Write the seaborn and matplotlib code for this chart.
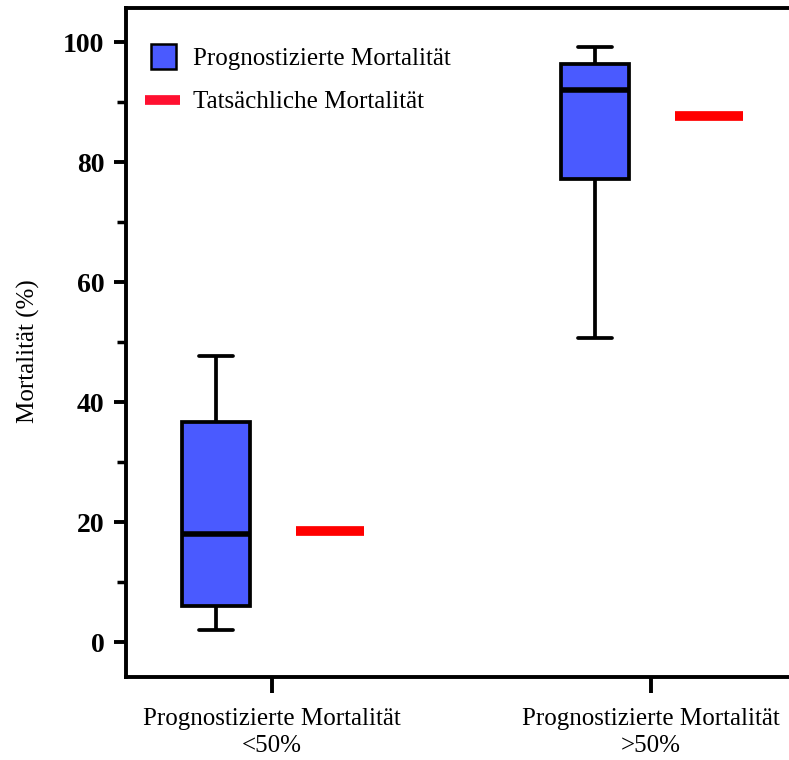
import numpy as np
import pandas as pd
import matplotlib
matplotlib.use("Agg")
import matplotlib.pyplot as plt
import seaborn as sns
from matplotlib.lines import Line2D
from matplotlib.ticker import MultipleLocator

# values (five-number summary per group)
groups = ["Prognostizierte Mortalität\n<50%", "Prognostizierte Mortalität\n>50%"]
pred_low = [2.0, 6.0, 18.0, 36.6, 47.6]
pred_high = [50.6, 77.2, 92.0, 96.4, 99.2]
actual = [18.5, 87.6]

blue = "#4a5aff"
red = "#ff0000"

sns.set_style("ticks")
plt.rcParams["font.family"] = ["Liberation Serif", "DejaVu Serif"]
plt.rcParams["text.color"] = "black"
plt.rcParams["axes.labelcolor"] = "black"
plt.rcParams["xtick.color"] = "black"
plt.rcParams["ytick.color"] = "black"
plt.rcParams["axes.edgecolor"] = "black"

df = pd.DataFrame({
    "group": np.repeat([0, 1], 5),
    "value": pred_low + pred_high,
})
df["pos"] = df["group"] - 0.148

fig = plt.figure(figsize=(7.89, 7.6), dpi=100)
ax = fig.add_axes([126 / 789, 83 / 760, 1 - 126 / 789, 669 / 760])

sns.boxplot(
    data=df, x="pos", y="value", native_scale=True, width=0.18,
    whis=(0, 100), color=blue, saturation=1, linecolor="black", linewidth=2.7,
    medianprops=dict(linewidth=4), capwidths=0.09, ax=ax,
)
for i, a in enumerate(actual):
    ax.hlines(a, i + 0.153 - 0.09, i + 0.153 + 0.09, color=red, linewidth=7)

ax.set_xlim(-0.385, 1.364)
ax.set_ylim(-5.83, 105.67)
ax.set_xticks([0, 1])
ax.set_xticklabels(groups, fontsize=18, linespacing=1.25)
ax.set_xlabel("")
ax.yaxis.set_major_locator(MultipleLocator(20))
ax.yaxis.set_minor_locator(MultipleLocator(10))
for lab in ax.get_yticklabels():
    lab.set_fontweight("bold")
    lab.set_fontsize(20)
ax.set_ylabel("Mortalität (%)", fontsize=18)
ax.yaxis.set_label_coords(-0.130, 0.487)

ax.tick_params(axis="y", which="major", length=8.5, width=2.8, pad=7)
ax.tick_params(axis="y", which="minor", length=6.5, width=2.5)
ax.tick_params(axis="x", which="major", length=11.5, width=2.8, pad=11)
for s in ["left", "top", "bottom"]:
    ax.spines[s].set_linewidth(2.8)
ax.spines["right"].set_visible(False)

handles = [
    Line2D([], [], marker="s", markersize=18, markerfacecolor=blue,
           markeredgecolor="black", markeredgewidth=1.8, linestyle="none"),
    Line2D([], [], color="#ff1030", linewidth=7, solid_capstyle="butt"),
]
ax.legend(handles, ["Prognostizierte Mortalität", "Tatsächliche Mortalität"],
          loc="upper left", bbox_to_anchor=(-0.005, 0.975), frameon=False,
          fontsize=18, handlelength=1.4, handletextpad=0.5, labelspacing=0.85)

fig.savefig("out.png", dpi=100)
